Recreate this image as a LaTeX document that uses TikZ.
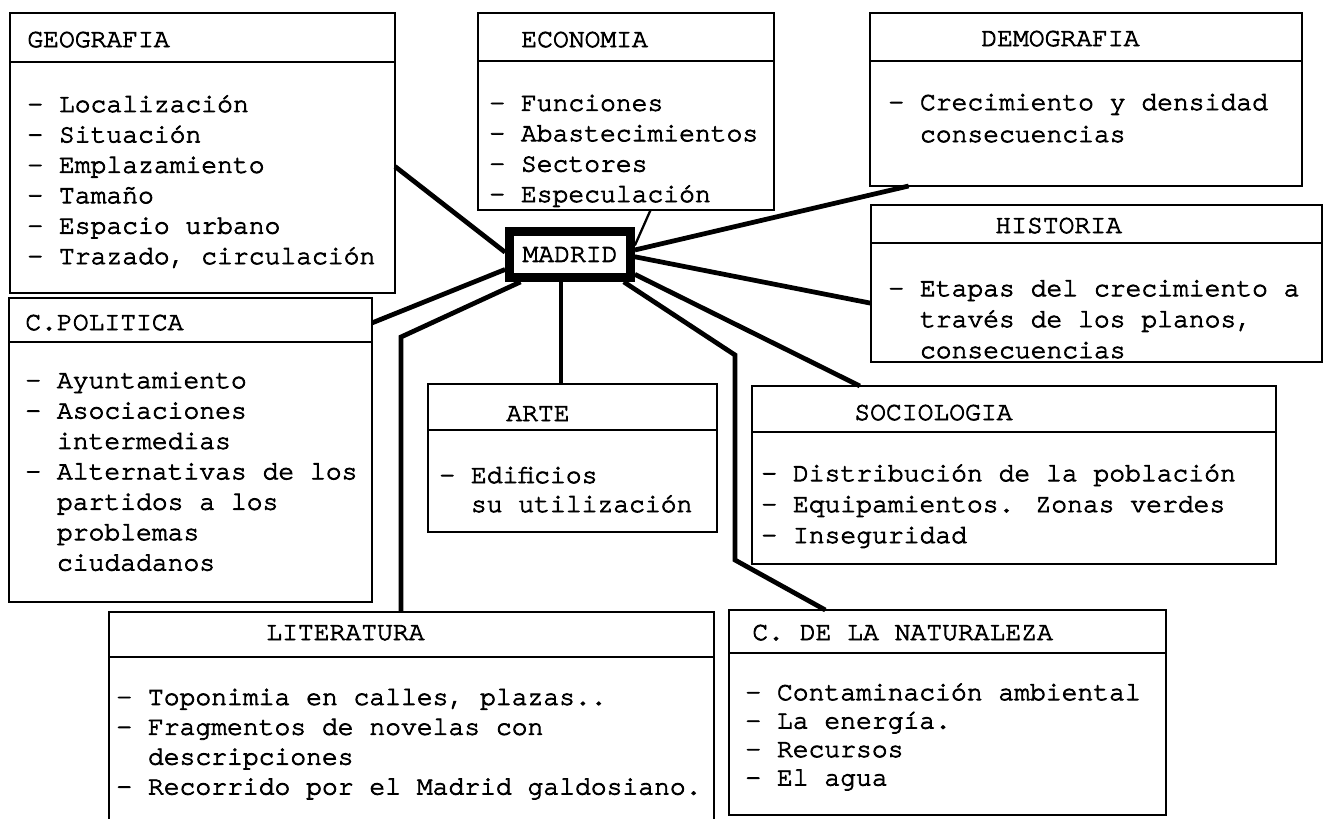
\documentclass[tikz,border=0pt]{standalone}
\usepackage{fontspec}
\setmainfont{TeX Gyre Cursor}[FakeBold=3]
\usepackage{tikz}

\newcommand{\sangria}{\phantom{- }}

\tikzset{
  caja/.style={draw, line width=1pt, outer sep=0pt, inner sep=0pt, anchor=north west},
  titulo/.style={anchor=base west, inner sep=0pt},
  lista/.style={anchor=base west, inner sep=0pt, align=left},
  divisoria/.style={line width=1pt},
  conector/.style={line width=2.7pt},
}

\begin{document}
\begin{tikzpicture}[every node/.append style={font=\fontsize{15}{17.3}\selectfont}]
        \useasboundingbox (0,0) rectangle (26.46,-16.36);

        % cajas
        \node [caja, minimum width=7.7cm, minimum height=5.6cm] (geo) at (0.2,-0.26) {};
        \node [caja, minimum width=5.92cm, minimum height=3.94cm] (eco) at (9.56,-0.26) {};
        \node [caja, minimum width=8.64cm, minimum height=3.46cm] (demo) at (17.4,-0.26) {};
        \node [caja, minimum width=9.02cm, minimum height=3.14cm] (hist) at (17.42,-4.1) {};
        \node [caja, minimum width=7.26cm, minimum height=6.08cm] (pol) at (0.18,-5.96) {};
        \node [caja, minimum width=5.78cm, minimum height=2.96cm] (arte) at (8.56,-7.68) {};
        \node [caja, minimum width=10.48cm, minimum height=3.56cm] (soc) at (15.04,-7.72) {};
        \node [caja, minimum width=12.1cm, minimum height=4.36cm] (lit) at (2.18,-12.24) {};
        \node [caja, minimum width=8.74cm, minimum height=4.1cm] (nat) at (14.58,-12.2) {};
        \node [draw, line width=5pt, inner sep=0pt, minimum width=2.42cm, minimum height=0.92cm] (madrid) at (11.4,-5.09) {MADRID};

        \foreach \c/\d in {geo/0.98, eco/0.96, demo/0.96, hist/0.76, pol/0.88, arte/0.92, soc/0.92, lit/0.9, nat/0.86}
            \draw [divisoria] ([yshift=-\d cm]\c.north west) -- ([yshift=-\d cm]\c.north east);

        % titulos
        \node [titulo] (geoT) at (0.54,-0.94) {GEOGRAFIA};
        \node [titulo] (ecoT) at (10.42,-0.94) {ECONOMIA};
        \node [titulo] (demoT) at (19.62,-0.92) {DEMOGRAFIA};
        \node [titulo] (histT) at (19.9,-4.66) {HISTORIA};
        \node [titulo] (polT) at (0.5,-6.6) {C.POLITICA};
        \node [titulo] (arteT) at (10.12,-8.42) {ARTE};
        \node [titulo] (socT) at (17.08,-8.4) {SOCIOLOGIA};
        \node [titulo] (litT) at (5.32,-12.8) {LITERATURA};
        \node [titulo] (natT) at (15.04,-12.8) {C. DE LA NATURALEZA};

        % contenidos (base = ultima linea)
        \node [lista] (geoL) at (0.54,-5.28) {- Localización\\- Situación\\- Emplazamiento\\- Tamaño\\- Espacio urbano\\- Trazado, circulación};
        \node [lista] (ecoL) at (9.78,-4.04) {- Funciones\\- Abastecimientos\\- Sectores\\- Especulación};
        \node [lista, font=\fontsize{15}{18.2}\selectfont] (demoL) at (17.76,-2.84) {- Crecimiento y densidad\\\sangria consecuencias};
        \node [lista, font=\fontsize{15}{17.6}\selectfont] (histL) at (17.76,-7.16) {- Etapas del crecimiento a\\\sangria través de los planos,\\\sangria consecuencias};
        \node [lista] (polL) at (0.5,-11.41) {- Ayuntamiento\\- Asociaciones\\\sangria intermedias\\- Alternativas de los\\\sangria partidos a los\\\sangria problemas\\\sangria ciudadanos};
        \node [lista, font=\fontsize{15}{16.5}\selectfont] (arteL) at (8.78,-10.24) {- Edificios\\\sangria su utilización};
        \node [lista, font=\fontsize{15}{17.6}\selectfont] (socL) at (15.22,-10.86) {- Distribución de la población\\- Equipamientos. Zonas verdes\\- Inseguridad};
        \node [lista, font=\fontsize{15}{17}\selectfont] (litL) at (2.32,-15.89) {- Toponimia en calles, plazas..\\- Fragmentos de novelas con\\\sangria descripciones\\- Recorrido por el Madrid galdosiano.};
        \node [lista, font=\fontsize{15}{16.2}\selectfont] (natL) at (14.9,-15.71) {- Contaminación ambiental\\- La energía.\\- Recursos\\- El agua};

        % codos
        \coordinate (litcodo) at (8.02,-6.74);
        \coordinate (natcodo) at (14.7,-7.1);
        \coordinate (natpie) at (14.7,-11.2);

        % conectores
        \draw [conector] (geo.-4.5) -- (madrid.178);
        \draw [conector] (pol.35) -- (madrid.193);
        \draw [conector] (madrid.209) -- (litcodo) -- (litcodo |- lit.north);
        \draw [conector] (madrid.252) -- (madrid.252 |- arte.north);
        \draw [line width=1.3pt] (madrid.8) -- (eco.-76);
        \draw [conector] (madrid.4) -- (demo.206);
        \draw [conector] (madrid.-2) -- (hist.185);
        \draw [conector] (madrid.-17) -- (soc.150);
        \draw [conector] (madrid.-27) -- (natcodo) -- (natpie) -- (nat.140);
    \end{tikzpicture}
\end{document}
